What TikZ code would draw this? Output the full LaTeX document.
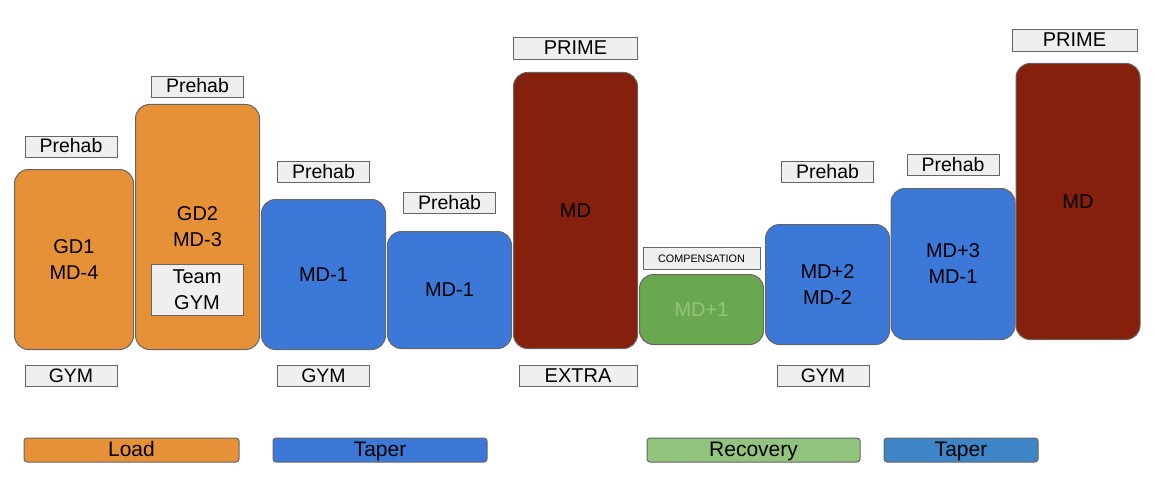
\documentclass[tikz,border=0pt]{standalone}
\usepackage{fontspec}
\setmainfont{Liberation Sans}
\usetikzlibrary{positioning}

\definecolor{loadorange}{HTML}{E69138}
\definecolor{taperblue}{HTML}{3C78D8}
\definecolor{matchred}{HTML}{85200C}
\definecolor{recgreen}{HTML}{6AA84F}
\definecolor{reclight}{HTML}{93C47D}
\definecolor{taperkey}{HTML}{3D85C6}
\definecolor{taggray}{HTML}{EFEFEF}
\definecolor{edgegray}{HTML}{666666}

\newcommand{\daytext}{\fontsize{20}{26}\selectfont}
\newcommand{\tagtext}{\fontsize{19.5}{24}\selectfont}
\newcommand{\keytext}{\fontsize{21}{26}\selectfont}
\newcommand{\tinytext}{\fontsize{10.8}{13}\selectfont}

\begin{document}
\begin{tikzpicture}[
    x=1pt, y=-1pt,
    bar/.style={rectangle, draw=edgegray, line width=1pt, rounded corners=14pt, minimum width=124pt, align=center, font=\daytext},
    box/.style={rectangle, draw=edgegray, line width=1pt, fill=taggray, minimum width=92pt, inner sep=0pt, align=center},
    tag/.style={box, minimum height=21pt, text height=15pt, text depth=3pt, font=\tagtext},
    key/.style={rectangle, draw=edgegray, line width=1pt, rounded corners=3pt, minimum height=24pt, inner sep=0pt, text height=16pt, text depth=3pt, font=\keytext}
]
\useasboundingbox (0,0) rectangle (1156,500);

% Days
\node[bar, fill=loadorange, minimum width=119pt, minimum height=180pt] (gd1) at (74,259.5) {GD1\\MD-4};
\node[bar, fill=loadorange, minimum height=245pt] (gd2) at (197.5,227) {GD2\\MD-3};
\node[box, minimum height=51pt, font=\daytext] (teamgym) at (197,290) {Team\\GYM};
\node[bar, fill=taperblue, minimum height=150pt] (taper1) at (323.5,274.5) {MD-1};
\node[bar, fill=taperblue, minimum height=117pt] (taper2) at (449.5,290) {MD-1};
\node[bar, fill=matchred, minimum height=276pt] (match1) at (575.5,210.5) {MD};
\node[bar, fill=recgreen, text=reclight, minimum height=70pt] (rec) at (701.5,309.5) {MD+1};
\node[bar, fill=taperblue, minimum height=120pt] (taper3) at (827.5,284.5) {MD+2\\MD-2};
\node[bar, fill=taperblue, minimum height=151pt] (taper4) at (953,264) {MD+3\\MD-1};
\node[bar, fill=matchred, minimum height=276pt] (match2) at (1078,201.5) {MD};

% Tags above
\node[tag, above=11pt of gd1, xshift=-3pt] (pre1) {Prehab};
\node[tag, above=6pt of gd2] (pre2) {Prehab};
\node[tag, above=16pt of taper1] (pre3) {Prehab};
\node[tag, above=17pt of taper2] (pre4) {Prehab};
\node[tag, minimum width=124pt, minimum height=22pt, font=\daytext, above=12pt of match1] (prime1) {PRIME};
\node[tag, minimum width=117pt, minimum height=22pt, text height=7pt, text depth=0pt, font=\tinytext, above=4pt of rec] (comp) {COMPENSATION};
\node[tag, above=41pt of taper3] (pre5) {Prehab};
\node[tag, above=12pt of taper4] (pre6) {Prehab};
\node[tag, minimum width=125pt, minimum height=22pt, font=\daytext, above=11pt of match2, xshift=-3.5pt] (prime2) {PRIME};

% Tags below
\node[tag, below=15pt of gd1, xshift=-3pt] (gym1) {GYM};
\node[tag, below=15pt of taper1] (gym2) {GYM};
\node[tag, minimum width=118pt, font=\daytext, below=16pt of match1, xshift=2.5pt] (extra) {EXTRA};
\node[tag, below=20pt of taper3, xshift=-4.5pt] (gym3) {GYM};

% Legend
\node[key, fill=loadorange, minimum width=215pt] (keyload) at (131.5,450) {Load};
\node[key, fill=taperblue, minimum width=214pt] (keytaper) at (380,450) {Taper};
\node[key, fill=reclight, minimum width=213pt] (keyrec) at (753.5,450) {Recovery};
\node[key, fill=taperkey, minimum width=154pt] (keytaper2) at (961,450) {Taper};

\end{tikzpicture}
\end{document}
